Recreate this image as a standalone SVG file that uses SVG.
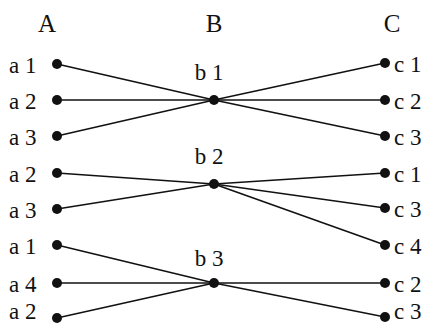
<svg xmlns="http://www.w3.org/2000/svg" width="429" height="325" viewBox="0 0 429 325">
<style>
text{font-family:"Liberation Serif","DejaVu Serif",serif;font-size:23px;fill:#111}
.h{font-size:25px;text-anchor:middle}
.m{text-anchor:middle}
.dot{fill:#111}
#connectors line{stroke:#111;stroke-width:1.6}
</style>
<rect width="429" height="325" fill="#fff"/>
<g id="headers">
<text class="h" x="47" y="32">A</text>
<text class="h" x="214" y="32">B</text>
<text class="h" x="392" y="32">C</text>
</g>
<g id="connectors">
<line x1="57" y1="64" x2="214" y2="100"/>
<line x1="57" y1="100" x2="214" y2="100"/>
<line x1="57" y1="136" x2="214" y2="100"/>
<line x1="214" y1="100" x2="385" y2="63"/>
<line x1="214" y1="100" x2="385" y2="100"/>
<line x1="214" y1="100" x2="385" y2="136"/>
<line x1="57" y1="173" x2="214" y2="184"/>
<line x1="57" y1="209" x2="214" y2="184"/>
<line x1="214" y1="184" x2="385" y2="173"/>
<line x1="214" y1="184" x2="385" y2="208"/>
<line x1="214" y1="184" x2="385" y2="245"/>
<line x1="57" y1="245" x2="214" y2="283"/>
<line x1="57" y1="283" x2="214" y2="283"/>
<line x1="57" y1="318" x2="214" y2="283"/>
<line x1="214" y1="283" x2="385" y2="283"/>
<line x1="214" y1="283" x2="385" y2="317"/>
</g>
<g id="a1_1"><circle class="dot" cx="57" cy="64" r="5"/><text x="9" y="73">a 1</text></g>
<g id="a2_1"><circle class="dot" cx="57" cy="100" r="5"/><text x="9" y="109">a 2</text></g>
<g id="a3_1"><circle class="dot" cx="57" cy="136" r="5"/><text x="9" y="145">a 3</text></g>
<g id="a2_2"><circle class="dot" cx="57" cy="173" r="5"/><text x="9" y="182">a 2</text></g>
<g id="a3_2"><circle class="dot" cx="57" cy="209" r="5"/><text x="9" y="218">a 3</text></g>
<g id="a1_3"><circle class="dot" cx="57" cy="245" r="5"/><text x="9" y="254">a 1</text></g>
<g id="a4_3"><circle class="dot" cx="57" cy="283" r="5"/><text x="9" y="292">a 4</text></g>
<g id="a2_3"><circle class="dot" cx="57" cy="318" r="5"/><text x="9" y="319">a 2</text></g>
<g id="b1"><circle class="dot" cx="214" cy="100" r="5"/><text class="m" x="209" y="80">b 1</text></g>
<g id="b2"><circle class="dot" cx="214" cy="184" r="5"/><text class="m" x="209" y="164">b 2</text></g>
<g id="b3"><circle class="dot" cx="214" cy="283" r="5"/><text class="m" x="209" y="266">b 3</text></g>
<g id="c1_1"><circle class="dot" cx="385" cy="63" r="5"/><text x="394" y="72">c 1</text></g>
<g id="c2_1"><circle class="dot" cx="385" cy="100" r="5"/><text x="394" y="109">c 2</text></g>
<g id="c3_1"><circle class="dot" cx="385" cy="136" r="5"/><text x="394" y="145">c 3</text></g>
<g id="c1_2"><circle class="dot" cx="385" cy="173" r="5"/><text x="394" y="182">c 1</text></g>
<g id="c3_2"><circle class="dot" cx="385" cy="208" r="5"/><text x="394" y="217">c 3</text></g>
<g id="c4_2"><circle class="dot" cx="385" cy="245" r="5"/><text x="394" y="254">c 4</text></g>
<g id="c2_3"><circle class="dot" cx="385" cy="283" r="5"/><text x="394" y="292">c 2</text></g>
<g id="c3_3"><circle class="dot" cx="385" cy="317" r="5"/><text x="394" y="319">c 3</text></g>
</svg>
